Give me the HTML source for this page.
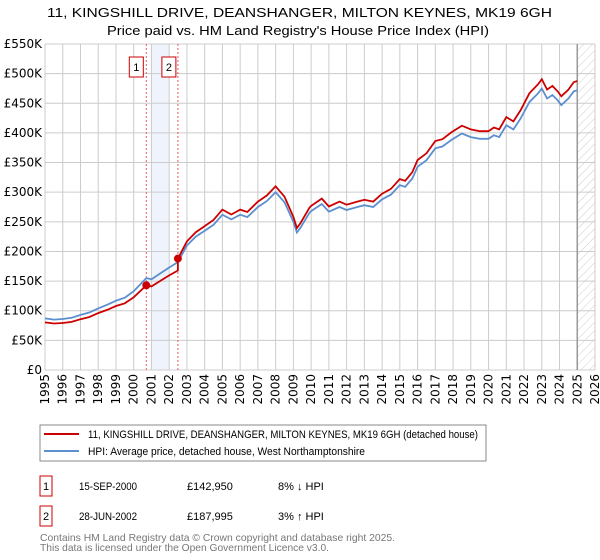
<!DOCTYPE html>
<html><head><meta charset="utf-8"><style>
body{margin:0;background:#fff;font-family:"Liberation Sans","DejaVu Sans",sans-serif;}
svg{display:block}
</style></head><body>
<svg id="c" width="600" height="560" viewBox="0 0 600 560">
<defs><pattern id="hatch" width="6" height="6" patternUnits="userSpaceOnUse" patternTransform="rotate(45)"><line x1="0" y1="0" x2="0" y2="6" stroke="#ccc" stroke-width="1"/></pattern></defs>
<text x="47" y="17" font-size="13" textLength="505" lengthAdjust="spacingAndGlyphs" fill="#000">11, KINGSHILL DRIVE, DEANSHANGER, MILTON KEYNES, MK19 6GH</text>
<text x="107" y="35" font-size="13" textLength="382" lengthAdjust="spacingAndGlyphs" fill="#000">Price paid vs. HM Land Registry's House Price Index (HPI)</text>
<g id="grid"></g><g id="marks"></g>
<g>
<rect x="40" y="425" width="446" height="36" fill="#fff" stroke="#888"/>
<line x1="44" y1="434" x2="79" y2="434" stroke="#cc0000" stroke-width="2"/>
<text x="88" y="438" font-size="11" textLength="390" lengthAdjust="spacingAndGlyphs">11, KINGSHILL DRIVE, DEANSHANGER, MILTON KEYNES, MK19 6GH (detached house)</text>
<line x1="44" y1="451" x2="79" y2="451" stroke="#5b8fd0" stroke-width="2"/>
<text x="88" y="455" font-size="11" textLength="277" lengthAdjust="spacingAndGlyphs">HPI: Average price, detached house, West Northamptonshire</text>
</g>
<g font-size="11">
<rect x="40" y="476" width="12" height="20" fill="none" stroke="#cc0000"/><text x="46" y="490" text-anchor="middle">1</text>
<text x="79" y="490" textLength="58" lengthAdjust="spacingAndGlyphs">15-SEP-2000</text><text x="187" y="490">£142,950</text><text x="278" y="490">8% ↓ HPI</text>
<rect x="40" y="506" width="12" height="20" fill="none" stroke="#cc0000"/><text x="46" y="520" text-anchor="middle">2</text>
<text x="79" y="520" textLength="58" lengthAdjust="spacingAndGlyphs">28-JUN-2002</text><text x="187" y="520">£187,995</text><text x="278" y="520">3% ↑ HPI</text>
</g>
<text x="40" y="541" font-size="10.5" fill="#777" textLength="355" lengthAdjust="spacingAndGlyphs">Contains HM Land Registry data © Crown copyright and database right 2025.</text>
<text x="40" y="551" font-size="10.5" fill="#777" textLength="289" lengthAdjust="spacingAndGlyphs">This data is licensed under the Open Government Licence v3.0.</text>
</svg>
<script>
const hpiYears=[1995,1995.5,1996,1996.5,1997,1997.5,1998,1998.5,1999,1999.5,2000,2000.71,2001,2001.5,2002,2002.49,2003,2003.5,2004,2004.5,2005,2005.5,2006,2006.4,2007,2007.5,2008,2008.5,2009,2009.2,2009.4,2009.9,2010,2010.6,2011,2011.6,2012,2012.6,2013,2013.5,2014,2014.5,2015,2015.3,2015.7,2016,2016.5,2017,2017.4,2017.9,2018.5,2019,2019.5,2020,2020.3,2020.6,2021,2021.4,2021.8,2022.3,2022.8,2023,2023.3,2023.6,2023.9,2024.1,2024.5,2024.8,2025];
const hpiValues=[87,85,86,88,93,97,104,110,117,122,133,155,153,163,173,182,210,225,235,245,262,254,262,258,275,285,300,283,250,232,240,265,268,280,267,275,270,275,278,275,288,296,312,309,323,343,354,374,377,388,399,393,390,390,396,393,413,406,424,452,467,475,458,464,455,447,458,470,472];
const saleDates=[2000.71,2002.49];
const salePrices=[142950,187995];
const saleLabels=["1","2"];
const yTicks=[0,50,100,150,200,250,300,350,400,450,500,550];
const xTicks=[1995,1996,1997,1998,1999,2000,2001,2002,2003,2004,2005,2006,2007,2008,2009,2010,2011,2012,2013,2014,2015,2016,2017,2018,2019,2020,2021,2022,2023,2024,2025,2026];
const L=45,R=595,T=44,B=370,X0=1995,X1=2026,YMAX=550;
const xs=y=>L+(y-X0)/(X1-X0)*(R-L);
const ys=v=>B-v/YMAX*(B-T);
const NS="http://www.w3.org/2000/svg";
const TF='"DejaVu Sans","Liberation Sans",sans-serif';
function mk(p,t,a){const e=document.createElementNS(NS,t);for(const k in a)e.setAttribute(k,a[k]);p.appendChild(e);return e;}
const g=document.getElementById('grid'),m=document.getElementById('marks');
const band=mk(g,'rect',{x:xs(2001),y:T,width:xs(2002)-xs(2001),height:B-T,fill:'#eef3fc'});


const lastDate=hpiYears[hpiYears.length-1];
const hat=mk(g,'rect',{x:xs(lastDate),y:T,width:R-xs(lastDate),height:B-T,fill:'url(#hatch)'});


yTicks.forEach(v=>{
 const ln=mk(g,'line',{x1:L,x2:R,y1:ys(v),y2:ys(v),stroke:'#ccc'});
 
 
 const t=mk(g,'text',{x:L-3,y:ys(v)+4,'text-anchor':'end','font-size':'12','font-family':TF});
 t.textContent=v===0?'£0':'£'+v+'K';
 
 
});
xTicks.forEach(y=>{
 const ln=mk(g,'line',{x1:xs(y),x2:xs(y),y1:T,y2:B,stroke:'#ccc'});
 
 
 const t=mk(g,'text',{x:0,y:0,'text-anchor':'end','font-size':'12','font-family':TF,transform:`translate(${xs(y)+4},${B+4}) rotate(-90)`});
 t.textContent=y;
 
 
});
const vl=mk(g,'line',{x1:xs(lastDate),x2:xs(lastDate),y1:T,y2:B,stroke:'#999','stroke-width':1.5});


saleDates.forEach((d,i)=>{
 const ln=mk(g,'line',{x1:xs(d),x2:xs(d),y1:T,y2:B,stroke:'#e06060','stroke-dasharray':'2,2'});
 
 
 const cx=xs(d)-(i===0?10:9);
 const bx=mk(g,'rect',{x:cx-7,y:57,width:14,height:20,fill:'#fff',stroke:'#cc0000'});
 
 
 const t=mk(g,'text',{x:cx,y:71,'text-anchor':'middle','font-size':'11'});
 t.textContent=saleLabels[i];
 
 
});
let hp='';hpiYears.forEach((y,i)=>{hp+=(i?'L':'M')+xs(y).toFixed(1)+','+ys(hpiValues[i]).toFixed(1);});
const hl=mk(m,'path',{d:hp,fill:'none',stroke:'#5b8fd0','stroke-width':1.8});


function hpiAt(d){for(let i=1;i<hpiYears.length;i++){if(d<=hpiYears[i]){const f=(d-hpiYears[i-1])/(hpiYears[i]-hpiYears[i-1]);return hpiValues[i-1]+f*(hpiValues[i]-hpiValues[i-1]);}}return hpiValues[hpiValues.length-1];}
const r1=salePrices[0]/1000/hpiAt(saleDates[0]),r2=salePrices[1]/1000/hpiAt(saleDates[1]);
let rp='';hpiYears.forEach((y,i)=>{const r=y<saleDates[1]?r1:r2;if(y===saleDates[1])rp+='L'+xs(y).toFixed(1)+','+ys(hpiValues[i]*r1).toFixed(1);rp+=(i?'L':'M')+xs(y).toFixed(1)+','+ys(hpiValues[i]*r).toFixed(1);});
const pl=mk(m,'path',{d:rp,fill:'none',stroke:'#cc0000','stroke-width':1.8});


saleDates.forEach((d,i)=>{
 const c=mk(m,'circle',{cx:xs(d),cy:ys(salePrices[i]/1000),r:4,fill:'#cc0000'});
 
 
});
</script>
</body></html>
